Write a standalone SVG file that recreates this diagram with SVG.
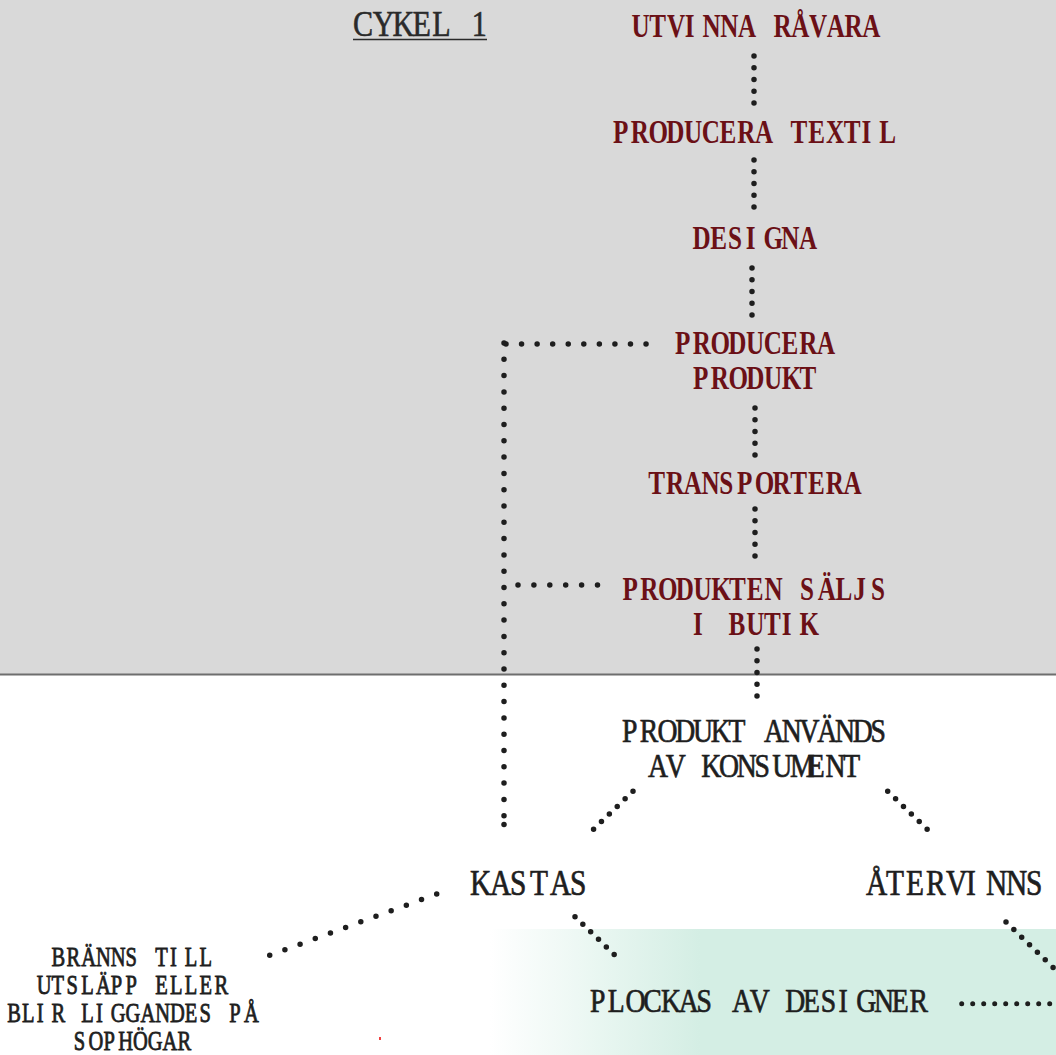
<svg xmlns="http://www.w3.org/2000/svg" width="1056" height="1055" viewBox="0 0 1056 1055">
<defs>
<linearGradient id="gr" gradientUnits="userSpaceOnUse" x1="490" y1="0" x2="700" y2="0">
<stop offset="0" stop-color="#ffffff"/>
<stop offset="1" stop-color="#d4eee4"/>
</linearGradient>
<style>
text{font-family:"Liberation Serif","Times New Roman",serif}
.r{fill:#6b1016;font-size:34px;font-weight:bold}
.k{fill:#1e1e1e;stroke:#1e1e1e;stroke-width:0.7px;font-size:33px}
.kb{fill:#1e1e1e;stroke:#1e1e1e;stroke-width:0.7px;font-size:35px}
.cy{fill:#2a2a2a;stroke:#2a2a2a;stroke-width:0.6px;font-size:35px}
.s{fill:#1e1e1e;stroke:#1e1e1e;stroke-width:0.8px;font-size:27px}
.d{stroke:#1e1e1e;stroke-width:5.5;stroke-linecap:round;fill:none}
</style>
</defs>
<rect x="0" y="0" width="1056" height="674" fill="#d9d9d9"/>
<line x1="0" y1="674.5" x2="1056" y2="674.5" stroke="#6e6e6e" stroke-width="2"/>
<rect x="490" y="929" width="566" height="126" fill="url(#gr)"/>
<rect x="379" y="1037" width="2" height="3" fill="#f04040"/>

<g id="connectors">
<line class="d" x1="754" y1="56" x2="754" y2="103.1" stroke-dasharray="0 11.75"/>
<line class="d" x1="754" y1="160" x2="754" y2="207.1" stroke-dasharray="0 11.75"/>
<line class="d" x1="752" y1="268" x2="752" y2="315.1" stroke-dasharray="0 11.75"/>
<line class="d" x1="755" y1="408" x2="755" y2="455.1" stroke-dasharray="0 11.75"/>
<line class="d" x1="755" y1="509" x2="755" y2="556.1" stroke-dasharray="0 11.75"/>
<line class="d" x1="757" y1="649" x2="757" y2="696.1" stroke-dasharray="0 11.75"/>
<line class="d" x1="506" y1="344" x2="646.1" y2="344" stroke-dasharray="0 15.56"/>
<line class="d" x1="504" y1="343" x2="504" y2="815.8" stroke-dasharray="0 16.3"/>
<circle cx="504" cy="824.5" r="2.75" fill="#1e1e1e"/>
<line class="d" x1="518" y1="585" x2="597.6" y2="585" stroke-dasharray="0 15.9"/>
<line class="d" x1="633" y1="791.3" x2="585.7" y2="836.7" stroke-dasharray="0 10.93"/>
<line class="d" x1="887.7" y1="791.3" x2="935" y2="836.7" stroke-dasharray="0 10.93"/>
<line class="d" x1="436.7" y1="894" x2="269.7" y2="955.3" stroke-dasharray="0 16.17"/>
<line class="d" x1="575" y1="916.7" x2="622" y2="962" stroke-dasharray="0 10.88"/>
<line class="d" x1="1006" y1="922" x2="1070" y2="983.7" stroke-dasharray="0 10.9"/>
<line class="d" x1="961.7" y1="1003.7" x2="1050" y2="1003.7" stroke-dasharray="0 11" style="stroke-width:5"/>
</g>

<g id="title">
<text class="cy" transform="translate(353,36) scale(0.86,1)" x="0 23.02 46.05 69.07 92.09 115.12 138.14">CYKEL 1</text>
<line x1="353" y1="39.5" x2="487" y2="39.5" stroke="#2a2a2a" stroke-width="1.6"/>
</g>

<g id="n1"><text class="r" transform="translate(631.5,37) scale(0.74,1)" x="0 23.99 47.97 71.96 95.95 119.93 143.92 167.91 191.89 215.88 239.86 263.85 287.84 311.82 335.81 359.8 383.78 407.77 431.76">UTVINNA RÅVARA</text></g>
<g id="n2"><text class="r" transform="translate(613,143) scale(0.74,1)" x="0 23.99 47.97 71.96 95.95 119.93 143.92 167.91 191.89 215.88 239.86 263.85 287.84 311.82 335.81 359.8 383.78 407.77 431.76">PRODUCERA TEXTIL</text></g>
<g id="n3"><text class="r" transform="translate(692.5,249) scale(0.74,1)" x="0 23.99 47.97 71.96 95.95 119.93 143.92 167.91 191.89 215.88 239.86 263.85 287.84 311.82 335.81 359.8 383.78 407.77 431.76">DESIGNA</text></g>
<g id="n4">
<text class="r" transform="translate(675,353.5) scale(0.74,1)" x="0 23.99 47.97 71.96 95.95 119.93 143.92 167.91 191.89 215.88 239.86 263.85 287.84 311.82 335.81 359.8 383.78 407.77 431.76">PRODUCERA</text>
<text class="r" transform="translate(693,388.5) scale(0.74,1)" x="0 23.99 47.97 71.96 95.95 119.93 143.92 167.91 191.89 215.88 239.86 263.85 287.84 311.82 335.81 359.8 383.78 407.77 431.76">PRODUKT</text>
</g>
<g id="n5"><text class="r" transform="translate(648.3,494) scale(0.74,1)" x="0 23.99 47.97 71.96 95.95 119.93 143.92 167.91 191.89 215.88 239.86 263.85 287.84 311.82 335.81 359.8 383.78 407.77 431.76">TRANSPORTERA</text></g>
<g id="n6">
<text class="r" transform="translate(622.5,599.5) scale(0.74,1)" x="0 23.99 47.97 71.96 95.95 119.93 143.92 167.91 191.89 215.88 239.86 263.85 287.84 311.82 335.81 359.8 383.78 407.77 431.76">PRODUKTEN SÄLJS</text>
<text class="r" transform="translate(693,635) scale(0.74,1)" x="0 23.99 47.97 71.96 95.95 119.93 143.92 167.91 191.89 215.88 239.86 263.85 287.84 311.82 335.81 359.8 383.78 407.77 431.76">I BUTIK</text>
</g>
<g id="n7">
<text class="k" transform="translate(622,742) scale(0.84,1)" x="0 21.13 42.26 63.39 84.52 105.65 126.79 147.92 169.05 190.18 211.31 232.44 253.57 274.7 295.83 316.96 338.1 359.23 380.36">PRODUKT ANVÄNDS</text>
<text class="k" transform="translate(648,777) scale(0.84,1)" x="0 21.13 42.26 63.39 84.52 105.65 126.79 147.92 169.05 190.18 211.31 232.44 253.57 274.7 295.83 316.96 338.1 359.23 380.36">AV KONSUMENT</text>
</g>
<g id="n8"><text class="kb" transform="translate(470,895) scale(0.84,1)" x="0 23.81 47.62 71.43 95.24 119.05 142.86 166.67 190.48">KASTAS</text></g>
<g id="n9"><text class="kb" transform="translate(866,895) scale(0.84,1)" x="0 23.81 47.62 71.43 95.24 119.05 142.86 166.67 190.48">ÅTERVINNS</text></g>
<g id="n10">
<text class="s" transform="translate(51.6,966) scale(0.76,1)" x="0 19.47 38.95 58.42 77.89 97.37 116.84 136.32 155.79 175.26 194.74 214.21 233.68 253.16 272.63 292.11 311.58">BRÄNNS TILL</text>
<text class="s" transform="translate(36.8,994) scale(0.76,1)" x="0 19.47 38.95 58.42 77.89 97.37 116.84 136.32 155.79 175.26 194.74 214.21 233.68 253.16 272.63 292.11 311.58">UTSLÄPP ELLER</text>
<text class="s" transform="translate(7.2,1022) scale(0.76,1)" x="0 19.47 38.95 58.42 77.89 97.37 116.84 136.32 155.79 175.26 194.74 214.21 233.68 253.16 272.63 292.11 311.58">BLIR LIGGANDES PÅ</text>
<text class="s" transform="translate(73.8,1050) scale(0.76,1)" x="0 19.47 38.95 58.42 77.89 97.37 116.84 136.32 155.79 175.26 194.74 214.21 233.68 253.16 272.63 292.11 311.58">SOPHÖGAR</text>
</g>
<g id="n11"><text class="k" transform="translate(590,1012) scale(0.84,1)" x="0 21.13 42.26 63.39 84.52 105.65 126.79 147.92 169.05 190.18 211.31 232.44 253.57 274.7 295.83 316.96 338.1 359.23 380.36">PLOCKAS AV DESIGNER</text></g>
</svg>
